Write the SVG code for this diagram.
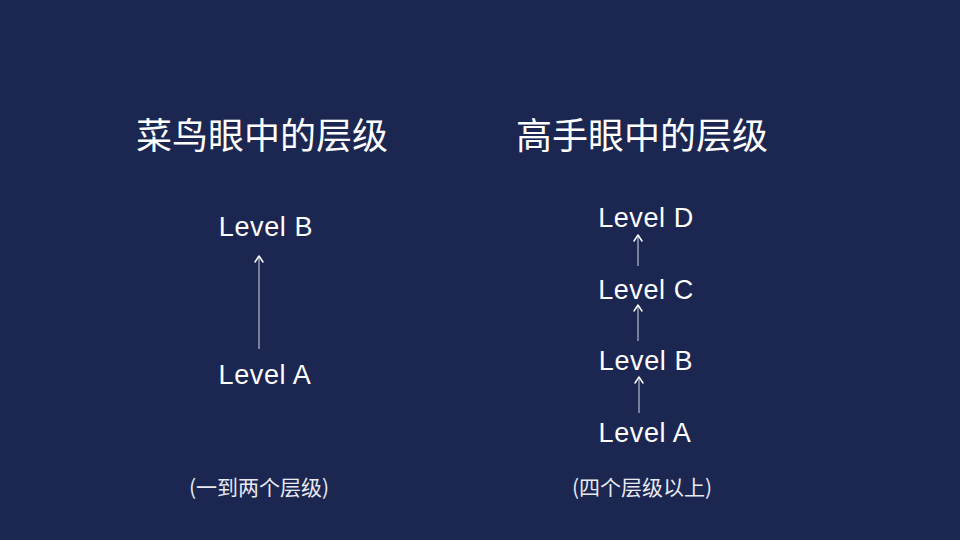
<svg xmlns="http://www.w3.org/2000/svg" width="960" height="540" viewBox="0 0 960 540">
<style>
.t{font-family:"Noto Sans CJK SC","Liberation Sans",sans-serif;fill:#ffffff;text-anchor:middle}
.title{font-size:36px}
.lv{font-family:"Liberation Sans",sans-serif;font-size:27px;letter-spacing:0.6px;fill:#ffffff;text-anchor:middle}
.note{font-size:21px;fill:#e8eaf2}
.c{stroke:#a9b0c8;stroke-width:1.3;fill:none}
.h{stroke:#ffffff;stroke-width:1.5;fill:none;stroke-linecap:round;stroke-linejoin:round}
</style>
<rect width="960" height="540" fill="#1b2651"/>
<g id="title-left"><text class="t title" x="262" y="149">菜鸟眼中的层级</text></g>
<g id="title-right"><text class="t title" x="642" y="149">高手眼中的层级</text></g>
<g id="left-b"><text class="lv" x="266" y="236">Level B</text></g>
<g id="left-a"><text class="lv" x="265" y="384">Level A</text></g>
<g id="right-d"><text class="lv" x="646" y="227">Level D</text></g>
<g id="right-c"><text class="lv" x="646" y="299">Level C</text></g>
<g id="right-b"><text class="lv" x="646" y="370">Level B</text></g>
<g id="right-a"><text class="lv" x="645" y="442">Level A</text></g>
<g id="note-left"><text class="t note" x="259" y="495">(一到两个层级)</text></g>
<g id="note-right"><text class="t note" x="642" y="495">(四个层级以上)</text></g>
<g id="connectors">
<line class="c" x1="259" y1="349" x2="259" y2="257"/>
<polyline class="h" points="255,262 259,256 263,262"/>
<line class="c" x1="638" y1="266" x2="638" y2="236"/>
<polyline class="h" points="634,241 638,235 642,241"/>
<line class="c" x1="638" y1="341" x2="638" y2="306"/>
<polyline class="h" points="634,311 638,305 642,311"/>
<line class="c" x1="639" y1="413" x2="639" y2="378"/>
<polyline class="h" points="635,383 639,377 643,383"/>
</g>
</svg>
